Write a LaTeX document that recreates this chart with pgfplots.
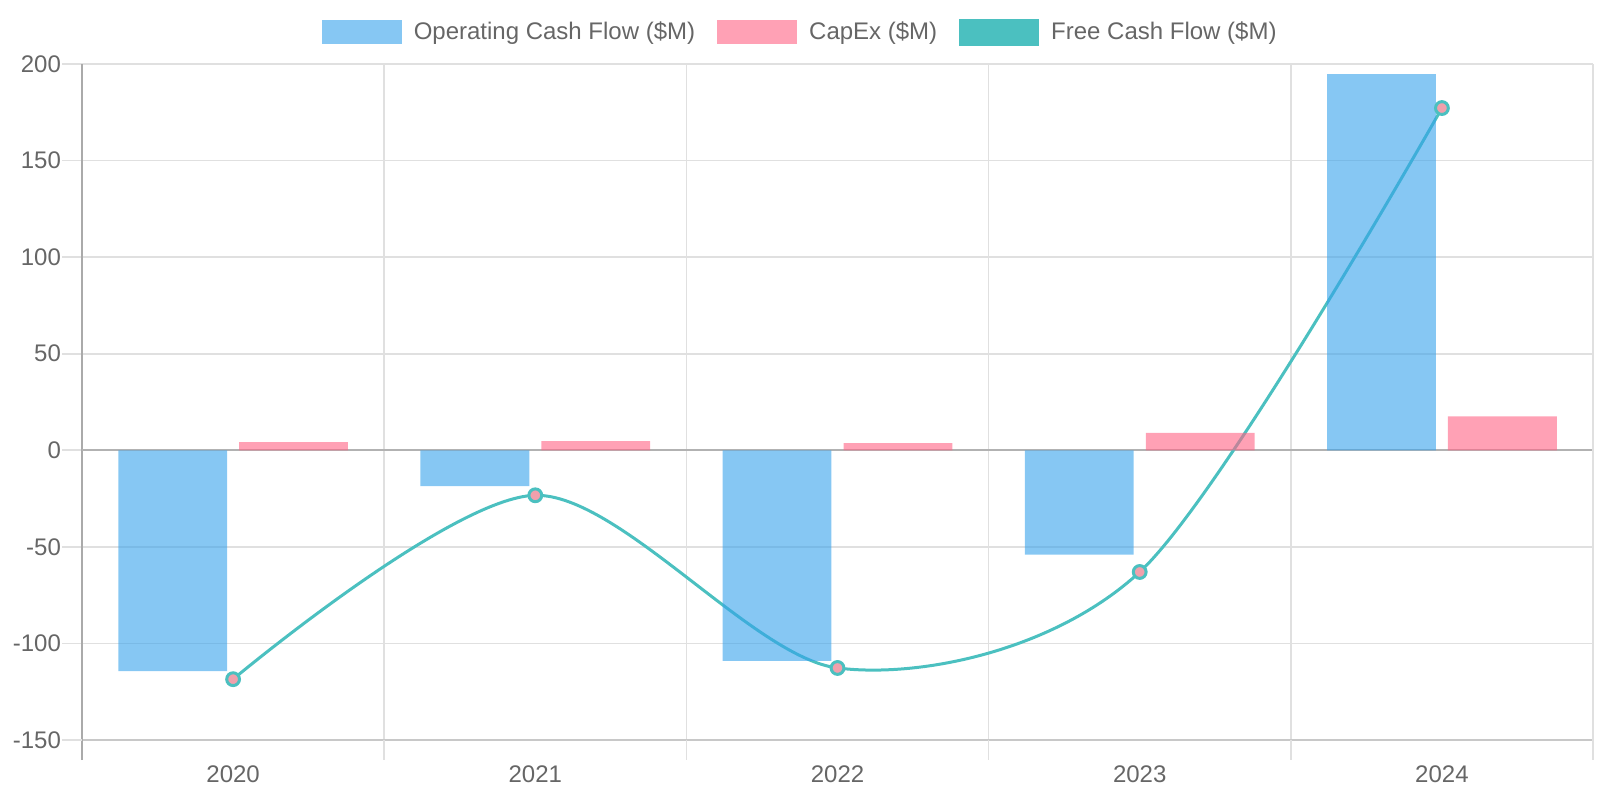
\documentclass[border=0pt]{standalone}
\usepackage{fontspec}
\setmainfont{Liberation Sans}
\usepackage{pgfplots}
\pgfplotsset{compat=1.18}
\definecolor{ocf}{RGB}{54,162,235}
\definecolor{capex}{RGB}{255,99,132}
\definecolor{fcf}{RGB}{75,192,192}
\definecolor{gridc}{RGB}{224,224,224}
\definecolor{zeroc}{RGB}{178,178,178}
\definecolor{spine}{RGB}{170,170,170}
\definecolor{botc}{RGB}{200,200,200}
\definecolor{txt}{RGB}{102,102,102}
\definecolor{mfill}{RGB}{240,160,172}
\begin{document}
\begin{tikzpicture}
\begin{axis}[
  scale only axis,
  width=755.5pt, height=338pt,
  clip=false,
  xmin=-0.5, xmax=4.5,
  ymin=-150, ymax=200,
  xtick={0,1,2,3,4},
  xticklabels={2020,2021,2022,2023,2024},
  minor xtick={-0.5,0.5,1.5,2.5,3.5,4.5},
  ytick={-150,-100,-50,0,50,100,150,200},
  ymajorgrids, xminorgrids,
  grid style={gridc, line width=0.8pt},
  minor grid style={gridc, line width=0.8pt},
  axis x line*=bottom, axis y line*=left,
  x axis line style={botc, line width=0.8pt, -},
  y axis line style={spine, line width=0.8pt, -},
  tick align=outside,
  major tick length=10pt, minor tick length=10pt,
  xtick style={draw=none},
  ytick style={draw=gridc, line width=0.8pt},
  /pgf/number format/assume math mode=true,
  ticklabel style={font=\fontsize{12}{14}\selectfont, text=txt},
  xticklabel style={yshift=0.5pt},
  yticklabel style={xshift=3pt},
  legend columns=3,
  legend style={draw=none, fill=none, at={(0.4786,1.047)}, anchor=center,
    font=\fontsize{12}{14}\selectfont, text=txt,
    /tikz/every even column/.append style={column sep=5pt},
    nodes={inner xsep=6pt}},
  legend image code/.code={\fill[#1, draw=none] (0pt,-6pt) rectangle (40pt,6pt);},
]
\addlegendimage{fill=ocf, fill opacity=0.6, draw=none}
\addlegendentry{Operating Cash Flow (\$M)}
\addlegendimage{fill=capex, fill opacity=0.6, draw=none}
\addlegendentry{CapEx (\$M)}
\addlegendimage{legend image code/.code={\draw[fill=fcf, draw=fcf, line width=1.5pt] (0.75pt,-6pt) rectangle (39.25pt,6pt);}}
\addlegendentry{Free Cash Flow (\$M)}

\draw[zeroc, line width=0.8pt] (axis cs:-0.5,0) -- (axis cs:4.5,0);
\draw[spine, line width=0.8pt] ([yshift=-10pt]axis cs:-0.5,-150) -- (axis cs:-0.5,-150);
\draw[gridc, line width=0.8pt] ([yshift=-10pt]axis cs:0.5,-150) -- (axis cs:0.5,-150);
\draw[gridc, line width=0.8pt] ([yshift=-10pt]axis cs:1.5,-150) -- (axis cs:1.5,-150);
\draw[gridc, line width=0.8pt] ([yshift=-10pt]axis cs:2.5,-150) -- (axis cs:2.5,-150);
\draw[gridc, line width=0.8pt] ([yshift=-10pt]axis cs:3.5,-150) -- (axis cs:3.5,-150);
\draw[gridc, line width=0.8pt] ([yshift=-10pt]axis cs:4.5,-150) -- (axis cs:4.5,200);
\draw[gridc, line width=0.8pt] ([xshift=-10pt]axis cs:-0.5,-150) -- (axis cs:-0.5,-150);

\addplot[forget plot, fcf, line width=1.5pt, smooth, tension=0.5,
  mark=*, mark size=3.2pt, mark options={fill=mfill, draw=fcf, line width=1.5pt}]
  coordinates {(0,-118.5) (1,-23.3) (2,-112.7) (3,-63) (4,177.2)};

\addplot[forget plot, ybar, bar width=0.36, bar shift=-0.2, fill=ocf, fill opacity=0.6, draw=none]
  coordinates {(0,-114.3) (1,-18.5) (2,-109) (3,-54) (4,194.7)};
\addplot[forget plot, ybar, bar width=0.36, bar shift=0.2, fill=capex, fill opacity=0.6, draw=none]
  coordinates {(0,4.2) (1,4.8) (2,3.7) (3,9) (4,17.5)};

\coordinate (psw) at (rel axis cs:0,0);
\coordinate (pne) at (rel axis cs:1,1);
\end{axis}
\pgfresetboundingbox
\path[use as bounding box] ([shift={(-41pt,-30pt)}]psw) rectangle ([shift={(3.5pt,32pt)}]pne);
\end{tikzpicture}
\end{document}
